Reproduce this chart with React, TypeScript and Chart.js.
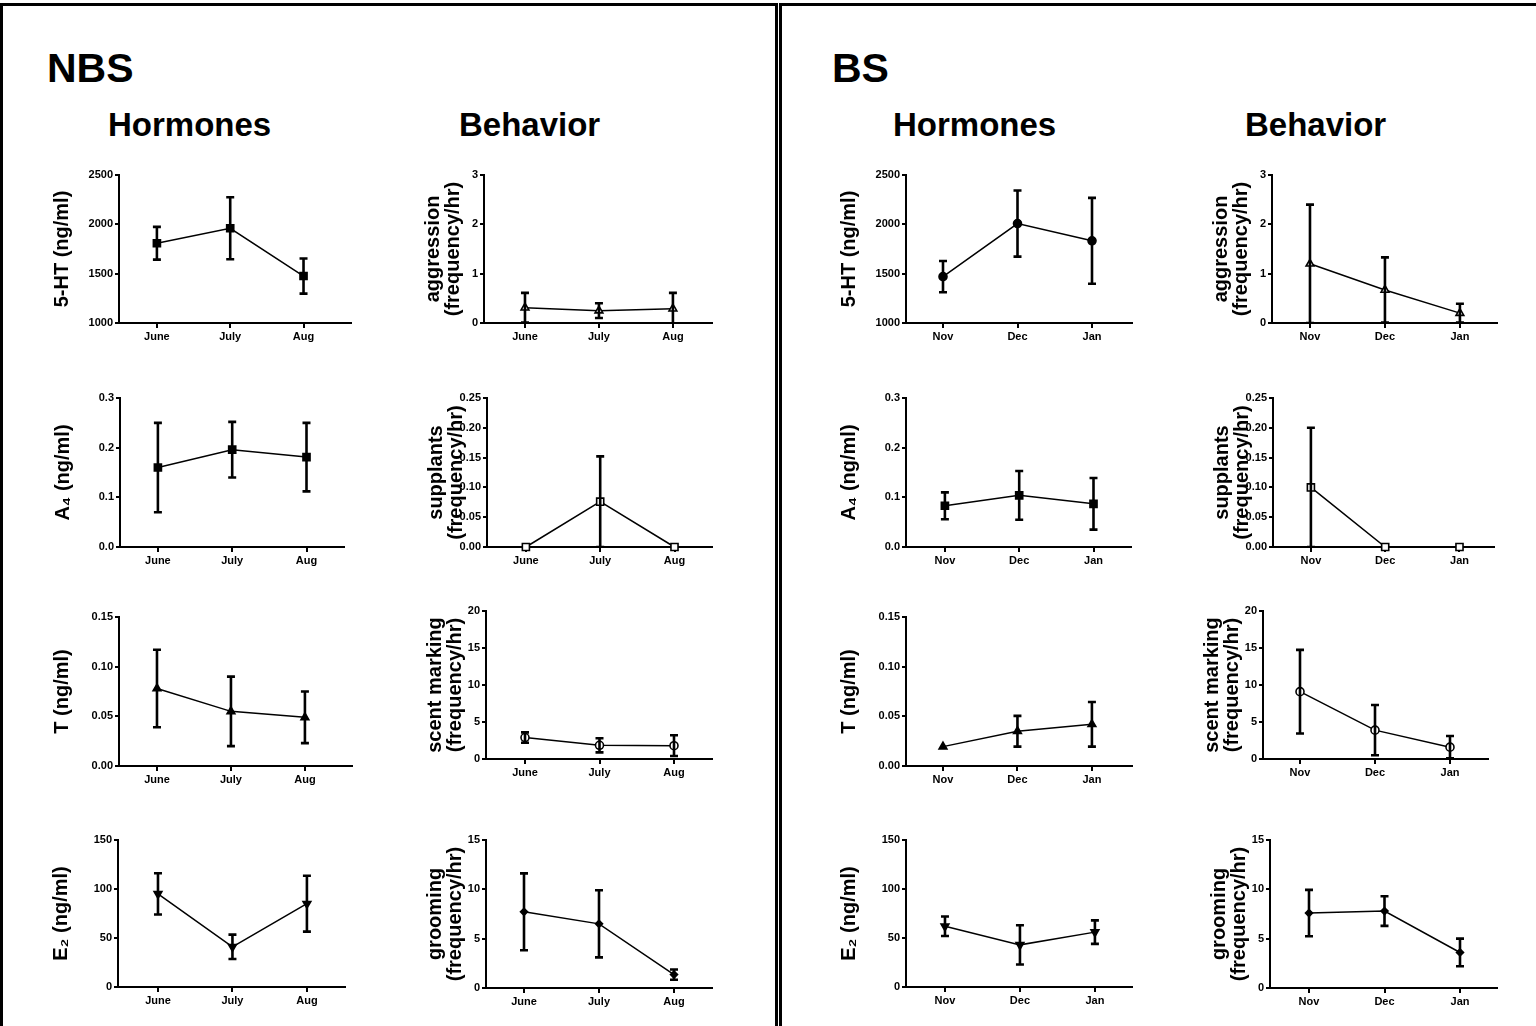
import React, { useEffect, useRef } from "react";
import { Chart, registerables } from "chart.js";

Chart.register(...registerables);

// ---------- categories ----------
const nbsMonths = ["June", "July", "Aug"];
const bsMonths = ["Nov", "Dec", "Jan"];

// ---------- y tick labels ----------
const ticks5HT = ["1000", "1500", "2000", "2500"];
const ticksA4 = ["0.0", "0.1", "0.2", "0.3"];
const ticksT = ["0.00", "0.05", "0.10", "0.15"];
const ticksE2 = ["0", "50", "100", "150"];
const ticksAggression = ["0", "1", "2", "3"];
const ticksSupplants = ["0.00", "0.05", "0.10", "0.15", "0.20", "0.25"];
const ticksScent = ["0", "5", "10", "15", "20"];
const ticksGrooming = ["0", "5", "10", "15"];

// ---------- NBS values (mean, sem) ----------
const nbs5HTMean = [1808, 1960, 1476];
const nbs5HTSem = [166, 314, 178];
const nbsA4Mean = [0.16, 0.196, 0.181];
const nbsA4Sem = [0.09, 0.056, 0.069];
const nbsTMean = [0.078, 0.055, 0.049];
const nbsTSem = [0.039, 0.035, 0.026];
const nbsE2Mean = [95, 41, 85];
const nbsE2Sem = [21, 12.4, 28.5];
const nbsAggressionMean = [0.31, 0.25, 0.29];
const nbsAggressionSem = [0.3, 0.15, 0.32];
const nbsSupplantsMean = [0, 0.076, 0];
const nbsSupplantsSem = [0, 0.076, 0];
const nbsScentMean = [2.9, 1.85, 1.8];
const nbsScentSem = [0.7, 0.95, 1.4];
const nbsGroomingMean = [7.72, 6.5, 1.36];
const nbsGroomingSem = [3.9, 3.4, 0.52];

// ---------- BS values (mean, sem) ----------
const bs5HTMean = [1470, 2008, 1833];
const bs5HTSem = [158, 335, 435];
const bsA4Mean = [0.083, 0.104, 0.087];
const bsA4Sem = [0.027, 0.049, 0.052];
const bsTMean = [0.0195, 0.035, 0.042];
const bsTSem = [0, 0.0155, 0.0225];
const bsE2Mean = [62, 43, 56];
const bsE2Sem = [10, 20, 12];
const bsAggressionMean = [1.2, 0.67, 0.2];
const bsAggressionSem = [1.2, 0.66, 0.19];
const bsSupplantsMean = [0.1, 0, 0];
const bsSupplantsSem = [0.1, 0, 0];
const bsScentMean = [9.1, 3.9, 1.6];
const bsScentSem = [5.65, 3.4, 1.5];
const bsGroomingMean = [7.6, 7.8, 3.6];
const bsGroomingSem = [2.35, 1.5, 1.4];

const FONT = "Arial, 'Liberation Sans', Helvetica, sans-serif";

type Panel = {
  title: string | string[];
  cats: string[];
  mean: number[];
  sem: number[];
  ticks: string[];
  marker: "square" | "circle" | "triangle" | "triangleDown" | "diamond";
  filled: boolean;
  behavior: boolean;
  // axisX, endX, topY, bottomY, firstCatX, lastCatX
  layout: [number, number, number, number, number, number];
};

const freq = "(frequency/hr)";

const panels: Panel[] = [
  // NBS hormones
  { title: "5-HT (ng/ml)", cats: nbsMonths, mean: nbs5HTMean, sem: nbs5HTSem, ticks: ticks5HT, marker: "square", filled: true, behavior: false, layout: [119, 352, 175, 323, 157, 304] },
  { title: "A\u2084 (ng/ml)", cats: nbsMonths, mean: nbsA4Mean, sem: nbsA4Sem, ticks: ticksA4, marker: "square", filled: true, behavior: false, layout: [120, 345, 398, 547, 158, 307] },
  { title: "T (ng/ml)", cats: nbsMonths, mean: nbsTMean, sem: nbsTSem, ticks: ticksT, marker: "triangle", filled: true, behavior: false, layout: [119, 352, 617, 766, 157, 305] },
  { title: "E\u2082 (ng/ml)", cats: nbsMonths, mean: nbsE2Mean, sem: nbsE2Sem, ticks: ticksE2, marker: "triangleDown", filled: true, behavior: false, layout: [118, 345, 840, 987, 158, 307] },
  // NBS behavior
  { title: ["aggression", freq], cats: nbsMonths, mean: nbsAggressionMean, sem: nbsAggressionSem, ticks: ticksAggression, marker: "triangle", filled: false, behavior: true, layout: [484, 712, 175, 323, 525, 673] },
  { title: ["supplants", freq], cats: nbsMonths, mean: nbsSupplantsMean, sem: nbsSupplantsSem, ticks: ticksSupplants, marker: "square", filled: false, behavior: true, layout: [487, 713, 398, 547, 526, 675] },
  { title: ["scent marking", freq], cats: nbsMonths, mean: nbsScentMean, sem: nbsScentSem, ticks: ticksScent, marker: "circle", filled: false, behavior: true, layout: [486, 712, 611, 759, 525, 674] },
  { title: ["grooming", freq], cats: nbsMonths, mean: nbsGroomingMean, sem: nbsGroomingSem, ticks: ticksGrooming, marker: "diamond", filled: true, behavior: true, layout: [486, 712, 840, 988, 524, 674] },
  // BS hormones
  { title: "5-HT (ng/ml)", cats: bsMonths, mean: bs5HTMean, sem: bs5HTSem, ticks: ticks5HT, marker: "circle", filled: true, behavior: false, layout: [906, 1132, 175, 323, 943, 1092] },
  { title: "A\u2084 (ng/ml)", cats: bsMonths, mean: bsA4Mean, sem: bsA4Sem, ticks: ticksA4, marker: "square", filled: true, behavior: false, layout: [906, 1132, 398, 547, 945, 1094] },
  { title: "T (ng/ml)", cats: bsMonths, mean: bsTMean, sem: bsTSem, ticks: ticksT, marker: "triangle", filled: true, behavior: false, layout: [906, 1132, 617, 766, 943, 1092] },
  { title: "E\u2082 (ng/ml)", cats: bsMonths, mean: bsE2Mean, sem: bsE2Sem, ticks: ticksE2, marker: "triangleDown", filled: true, behavior: false, layout: [906, 1132, 840, 987, 945, 1095] },
  // BS behavior
  { title: ["aggression", freq], cats: bsMonths, mean: bsAggressionMean, sem: bsAggressionSem, ticks: ticksAggression, marker: "triangle", filled: false, behavior: true, layout: [1272, 1497, 175, 323, 1310, 1460] },
  { title: ["supplants", freq], cats: bsMonths, mean: bsSupplantsMean, sem: bsSupplantsSem, ticks: ticksSupplants, marker: "square", filled: false, behavior: true, layout: [1273, 1495, 398, 547, 1311, 1460] },
  { title: ["scent marking", freq], cats: bsMonths, mean: bsScentMean, sem: bsScentSem, ticks: ticksScent, marker: "circle", filled: false, behavior: true, layout: [1263, 1488, 611, 759, 1300, 1450] },
  { title: ["grooming", freq], cats: bsMonths, mean: bsGroomingMean, sem: bsGroomingSem, ticks: ticksGrooming, marker: "diamond", filled: true, behavior: true, layout: [1270, 1497, 840, 988, 1309, 1460] },
];

function markerProps(m: Panel["marker"], filled: boolean) {
  const fill = filled ? "#000" : "#fff";
  switch (m) {
    case "square":
      return { pointStyle: "rect", pointRadius: 5, pointRotation: 0, pointBackgroundColor: fill };
    case "circle":
      return { pointStyle: "circle", pointRadius: 4, pointRotation: 0, pointBackgroundColor: fill };
    case "triangle":
      return { pointStyle: "triangle", pointRadius: 4.5, pointRotation: 0, pointBackgroundColor: fill };
    case "triangleDown":
      return { pointStyle: "triangle", pointRadius: 4.5, pointRotation: 180, pointBackgroundColor: fill };
    case "diamond":
      return { pointStyle: "rectRot", pointRadius: 3.5, pointRotation: 0, pointBackgroundColor: fill };
  }
}

function PanelChart({ p }: { p: Panel }) {
  const ref = useRef<HTMLCanvasElement>(null);
  const [axisX, endX, topY, bottomY, c0, c2] = p.layout;
  const W = p.behavior ? 63 : 69;
  const H = 26;
  const padTop = 12;
  const padRight = 6;
  const left = axisX - W;
  const top = topY - padTop;
  const width = endX - left + padRight;
  const height = bottomY - top + H;

  useEffect(() => {
    if (!ref.current) return;
    const spacing = (c2 - c0) / 2;
    const xmin = -(c0 - axisX) / spacing;
    const xmax = p.cats.length - 1 + (endX - c2) / spacing;
    const tickVals = p.ticks.map((t) => parseFloat(t));

    const errorBars = {
      id: "errorBars",
      afterDatasetsDraw(chart: any) {
        const ctx = chart.ctx as CanvasRenderingContext2D;
        const area = chart.chartArea;
        const ys = chart.scales.y;
        const xs = chart.scales.x;
        ctx.save();
        ctx.beginPath();
        ctx.rect(area.left - 10, area.top - 10, area.right - area.left + 20, area.bottom - area.top + 10);
        ctx.clip();
        ctx.strokeStyle = "#000";
        ctx.lineWidth = 2.6;
        ctx.lineCap = "butt";
        p.mean.forEach((m, i) => {
          const s = p.sem[i];
          if (!s) return;
          const x = xs.getPixelForValue(i);
          const yHi = ys.getPixelForValue(m + s);
          const yLo = ys.getPixelForValue(m - s);
          ctx.beginPath();
          ctx.moveTo(x, yHi);
          ctx.lineTo(x, Math.min(yLo, area.bottom));
          ctx.moveTo(x - 4, yHi);
          ctx.lineTo(x + 4, yHi);
          if (yLo <= area.bottom) {
            ctx.moveTo(x - 4, yLo);
            ctx.lineTo(x + 4, yLo);
          }
          ctx.stroke();
        });
        ctx.restore();
      },
    };

    const mp = markerProps(p.marker, p.filled);
    const chart = new Chart(ref.current, {
      type: "line",
      data: {
        datasets: [
          {
            data: p.mean.map((y, i) => ({ x: i, y })),
            borderColor: "#000",
            borderWidth: 1.5,
            tension: 0,
            fill: false,
            clip: false,
            pointBorderColor: "#000",
            pointBorderWidth: 1.6,
            ...mp,
          } as any,
        ],
      },
      options: {
        responsive: false,
        animation: false,
        events: [],
        layout: { padding: { top: padTop, right: padRight, left: 0, bottom: 0 } },
        plugins: { legend: { display: false }, tooltip: { enabled: false } },
        scales: {
          x: {
            type: "linear",
            min: xmin,
            max: xmax,
            afterBuildTicks: (s: any) => {
              s.ticks = p.cats.map((_, i) => ({ value: i }));
            },
            afterFit: (s: any) => {
              s.height = H;
            },
            border: { display: true, color: "#000", width: 2 },
            grid: { display: true, drawOnChartArea: false, drawTicks: true, tickLength: 5, color: "#000", lineWidth: 2 },
            ticks: {
              autoSkip: false,
              maxRotation: 0,
              padding: 2,
              color: "#000",
              font: { family: FONT, size: 11, weight: "bold" },
              callback: (_v: any, i: number) => p.cats[i],
            },
          },
          y: {
            type: "linear",
            min: tickVals[0],
            max: tickVals[tickVals.length - 1],
            afterBuildTicks: (s: any) => {
              s.ticks = tickVals.map((v) => ({ value: v }));
            },
            afterFit: (s: any) => {
              s.width = W;
            },
            border: { display: true, color: "#000", width: 2 },
            grid: { display: true, drawOnChartArea: false, drawTicks: true, tickLength: 4, color: "#000", lineWidth: 2 },
            ticks: {
              autoSkip: false,
              padding: 2,
              color: "#000",
              font: { family: FONT, size: 11, weight: "bold" },
              callback: (_v: any, i: number) => p.ticks[i],
            },
            title: {
              display: true,
              text: p.title,
              color: "#000",
              padding: { top: 2, bottom: 0 },
              font: { family: FONT, size: 20, weight: "bold", lineHeight: 1 },
            },
          },
        },
      } as any,
      plugins: [errorBars],
    });
    return () => chart.destroy();
  }, []);

  return (
    <canvas
      ref={ref}
      width={width}
      height={height}
      style={{ position: "absolute", left, top, width, height }}
    />
  );
}

const headStyle = (left: number, top: number, size: number): React.CSSProperties => ({
  position: "absolute",
  left,
  top,
  fontFamily: FONT,
  fontWeight: "bold",
  fontSize: size,
  lineHeight: 1,
  color: "#000",
  whiteSpace: "nowrap",
});

export default function App() {
  return (
    <div
      style={{
        position: "absolute",
        left: 0,
        top: 0,
        width: 1536,
        height: 1026,
        overflow: "hidden",
        background: "#fff",
      }}
    >
      <div style={{ position: "absolute", left: 0, top: 3, width: 772, height: 1040, border: "3px solid #000" }} />
      <div style={{ position: "absolute", left: 779, top: 3, width: 800, height: 1040, border: "3px solid #000" }} />

      <div style={headStyle(47, 48, 41)}>NBS</div>
      <div style={headStyle(108, 108, 33)}>Hormones</div>
      <div style={headStyle(459, 108, 33)}>Behavior</div>

      <div style={headStyle(832, 48, 41)}>BS</div>
      <div style={headStyle(893, 108, 33)}>Hormones</div>
      <div style={headStyle(1245, 108, 33)}>Behavior</div>

      {panels.map((p, i) => (
        <PanelChart key={i} p={p} />
      ))}
    </div>
  );
}
